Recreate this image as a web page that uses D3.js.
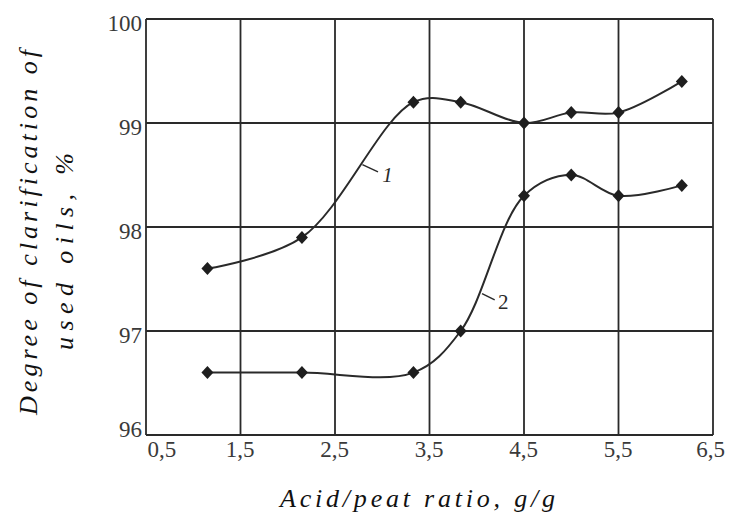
<!DOCTYPE html>
<html><head><meta charset="utf-8">
<script src="https://cdn.jsdelivr.net/npm/d3@7/dist/d3.min.js"></script>
</head><body style="margin:0">
<svg id="chart" width="731" height="517"></svg>
<script>
const xValues = [1.15, 2.15, 3.33, 3.83, 4.5, 5.0, 5.5, 6.17];
const series1 = [97.6, 97.9, 99.2, 99.2, 99.0, 99.1, 99.1, 99.4];
const series2 = [96.6, 96.6, 96.6, 97.0, 98.3, 98.5, 98.3, 98.4];
const xTicks = [0.5, 1.5, 2.5, 3.5, 4.5, 5.5, 6.5];
const xTickLabels = ["0,5", "1,5", "2,5", "3,5", "4,5", "5,5", "6,5"];
const yTicks = [96, 97, 98, 99, 100];
const curveLabels = [
  {text: "1", from: [2.79, 98.6], to: [2.955, 98.53], at: [3.0, 98.43], italic: true},
  {text: "2", from: [4.056, 97.36], to: [4.19, 97.3], at: [4.225, 97.21], italic: false}
];

const svg = d3.select("#chart");
const L = 146, R = 713, T = 19, B = 435;
const x = d3.scaleLinear().domain([0.5, 6.5]).range([L, R]);
const y = d3.scaleLinear().domain([96, 100]).range([B, T]);
const ink = "#2a2a2a";

// text layer first
svg.append("text").attr("x", 280).attr("y", 507).attr("font-size", 26)
  .style("font-family", "'Liberation Serif'").style("font-style", "italic")
  .attr("textLength", 275).attr("lengthAdjust", "spacing")
  .attr("fill", "#111").text("Acid/peat ratio, g/g");
svg.append("text").attr("transform", "rotate(-90)").attr("x", -415).attr("y", 37).attr("font-size", 26)
  .style("font-family", "'Liberation Serif'").style("font-style", "italic")
  .attr("textLength", 365).attr("lengthAdjust", "spacing")
  .attr("fill", "#111").text("Degree of clarification of");
svg.append("text").attr("transform", "rotate(-90)").attr("x", -350).attr("y", 73).attr("font-size", 26)
  .style("font-family", "'Liberation Serif'").style("font-style", "italic")
  .attr("textLength", 197).attr("lengthAdjust", "spacing")
  .attr("fill", "#111").text("used oils, %");

// grid
const g = svg.append("g");
g.selectAll(".vx").data(xTicks).enter().append("line")
  .attr("x1", d => x(d)).attr("x2", d => x(d)).attr("y1", T).attr("y2", B)
  .attr("stroke", ink).attr("stroke-width", 1.8);
g.selectAll(".hy").data(yTicks).enter().append("line")
  .attr("x1", L).attr("x2", R).attr("y1", d => y(d)).attr("y2", d => y(d))
  .attr("stroke", ink).attr("stroke-width", 1.8);

// axes tick labels via d3 axes
const xAxis = svg.append("g").attr("transform", `translate(0,${B})`)
  .call(d3.axisBottom(x).tickValues(xTicks).tickSize(0).tickPadding(6)
    .tickFormat((d, i) => xTickLabels[i]));
xAxis.attr("font-family", null).attr("font-size", null);
xAxis.select(".domain").remove();
xAxis.selectAll("text").attr("font-size", 23).style("font-family", "'Liberation Serif'")
  .attr("fill", "#3a3a3a").attr("dy", "0.71em")
  .attr("text-anchor", (d, i) => i === 0 ? "start" : "middle")
  .attr("dx", (d, i) => i === 0 ? 1 : (i === xTicks.length - 1 ? -3 : -1));

const yAxis = svg.append("g").attr("transform", `translate(${L},0)`)
  .call(d3.axisLeft(y).tickValues(yTicks).tickSize(0).tickPadding(4).tickFormat(d3.format("d")));
yAxis.attr("font-family", null).attr("font-size", null);
yAxis.select(".domain").remove();
yAxis.selectAll("text").attr("font-size", 23).style("font-family", "'Liberation Serif'")
  .attr("fill", "#3a3a3a").attr("dy", (d, i) => i === 0 ? "0.08em" : "0.5em");

// curves
const line = d3.line().x(d => x(d[0])).y(d => y(d[1])).curve(d3.curveCatmullRom.alpha(0.5));
[series1, series2].forEach(s => {
  const pts = xValues.map((xv, i) => [xv, s[i]]);
  svg.append("path").datum(pts).attr("d", line)
    .attr("fill", "none").attr("stroke", ink).attr("stroke-width", 2);
  svg.append("g").selectAll("path").data(pts).enter().append("path")
    .attr("d", "M0,-6.5L6,0L0,6.5L-6,0Z")
    .attr("transform", d => `translate(${x(d[0])},${y(d[1])})`)
    .attr("fill", "#1e1e1e");
});

// curve labels
curveLabels.forEach(c => {
  svg.append("line")
    .attr("x1", x(c.from[0])).attr("y1", y(c.from[1]))
    .attr("x2", x(c.to[0])).attr("y2", y(c.to[1]))
    .attr("stroke", ink).attr("stroke-width", 1.5);
  svg.append("text").attr("x", x(c.at[0])).attr("y", y(c.at[1])).attr("font-size", 21)
    .style("font-family", "'Liberation Serif'")
    .style("font-style", c.italic ? "italic" : "normal")
    .attr("fill", ink).text(c.text);
});
</script>
</body></html>
